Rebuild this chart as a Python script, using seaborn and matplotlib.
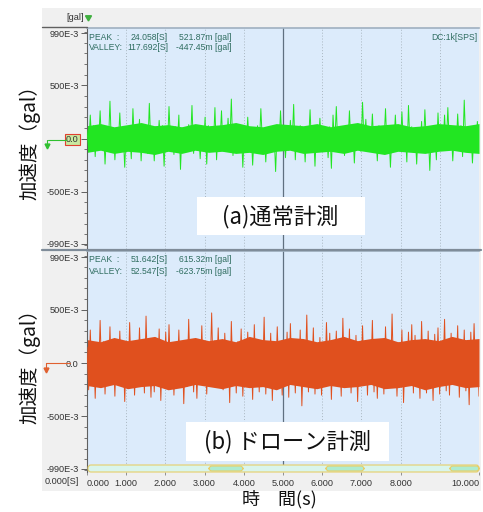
import numpy as np
import pandas as pd
import matplotlib
matplotlib.use("Agg")
import matplotlib.pyplot as plt
import seaborn as sns
from matplotlib.patches import Rectangle, FancyBboxPatch
from matplotlib.lines import Line2D
from matplotlib.ticker import MultipleLocator

# ---------------- data ----------------
normal_acc = [
    0.08,-0.10,0.22,-0.07,0.12,-0.17,0.09,-0.06,0.26,-0.10,0.11,-0.24,0.07,-0.09,0.35,-0.13,0.10,-0.20,0.06,-0.08,
    0.24,-0.09,0.07,-0.27,0.10,-0.11,0.08,-0.19,0.28,-0.07,0.12,-0.08,0.18,-0.21,0.10,-0.09,0.07,-0.14,0.33,-0.10,
    0.09,-0.21,0.11,-0.06,0.17,-0.08,0.12,-0.26,0.08,-0.10,0.30,-0.07,0.09,-0.15,0.11,-0.08,0.22,-0.29,0.10,-0.07,
    0.06,-0.11,0.13,-0.09,0.31,-0.14,0.08,-0.11,0.10,-0.19,0.07,-0.09,0.20,-0.24,0.12,-0.08,0.09,-0.10,0.29,-0.20,
    0.11,-0.07,0.26,-0.12,0.08,-0.10,0.19,-0.09,0.37,-0.16,0.07,-0.11,0.10,-0.06,0.12,-0.27,0.08,-0.09,0.20,-0.10,
    0.10,-0.25,0.07,-0.08,0.12,-0.10,0.28,-0.06,0.09,-0.22,0.10,-0.07,0.11,-0.09,0.08,-0.31,0.12,-0.10,0.26,-0.08,
    0.07,-0.18,0.09,-0.11,0.17,-0.08,0.32,-0.20,0.10,-0.07,0.12,-0.09,0.08,-0.22,0.10,-0.06,0.27,-0.11,0.09,-0.26,
    0.12,-0.08,0.19,-0.10,0.07,-0.12,0.09,-0.18,0.11,-0.28,0.22,-0.08,0.30,-0.11,0.07,-0.09,0.10,-0.16,0.08,-0.10,
    0.26,-0.09,0.11,-0.23,0.08,-0.10,0.07,-0.12,0.34,-0.08,0.18,-0.11,0.09,-0.07,0.23,-0.10,0.08,-0.21,0.12,-0.09,
    0.10,-0.07,0.28,-0.12,0.09,-0.27,0.08,-0.10,0.22,-0.09,0.07,-0.11,0.25,-0.08,0.10,-0.22,0.31,-0.09,0.11,-0.07,
    0.08,-0.24,0.10,-0.09,0.16,-0.12,0.27,-0.07,0.09,-0.30,0.11,-0.08,0.10,-0.20,0.24,-0.09,0.07,-0.11,0.22,-0.10,
    0.29,-0.09,0.10,-0.21,0.08,-0.11,0.23,-0.07,0.12,-0.17,0.36,-0.08,0.09,-0.10,0.11,-0.23,0.07,-0.12,0.16,-0.09,
]
drone_acc = [
    0.15,-0.25,0.31,-0.14,0.19,-0.33,0.16,-0.18,0.40,-0.13,0.20,-0.29,0.15,-0.17,0.34,-0.20,0.14,-0.31,0.18,-0.16,
    0.30,-0.15,0.17,-0.36,0.14,-0.19,0.38,-0.16,0.20,-0.30,0.13,-0.18,0.33,-0.15,0.19,-0.28,0.44,-0.14,0.16,-0.32,
    0.18,-0.27,0.15,-0.17,0.32,-0.35,0.14,-0.19,0.29,-0.16,0.36,-0.14,0.18,-0.30,0.15,-0.13,0.31,-0.17,0.20,-0.38,
    0.16,-0.22,0.41,-0.15,0.19,-0.27,0.14,-0.33,0.18,-0.16,0.35,-0.20,0.15,-0.29,0.17,-0.14,0.47,-0.18,0.21,-0.15,
    0.33,-0.17,0.14,-0.25,0.28,-0.15,0.19,-0.37,0.39,-0.16,0.15,-0.28,0.20,-0.14,0.32,-0.31,0.16,-0.18,0.29,-0.14,
    0.17,-0.34,0.36,-0.15,0.20,-0.27,0.14,-0.18,0.43,-0.29,0.16,-0.14,0.28,-0.35,0.18,-0.16,0.34,-0.15,0.19,-0.30,
    0.15,-0.18,0.29,-0.32,0.37,-0.14,0.17,-0.28,0.16,-0.19,0.31,-0.40,0.14,-0.16,0.45,-0.27,0.18,-0.15,0.33,-0.29,
    0.16,-0.15,0.24,-0.30,0.14,-0.17,0.38,-0.16,0.28,-0.34,0.18,-0.14,0.30,-0.19,0.15,-0.31,0.42,-0.17,0.20,-0.16,
    0.32,-0.28,0.14,-0.18,0.26,-0.36,0.16,-0.15,0.35,-0.19,0.17,-0.30,0.15,-0.16,0.40,-0.27,0.19,-0.33,0.14,-0.17,
    0.18,-0.29,0.34,-0.15,0.16,-0.21,0.46,-0.17,0.14,-0.31,0.19,-0.16,0.31,-0.37,0.15,-0.18,0.29,-0.14,0.36,-0.28,
    0.26,-0.16,0.15,-0.33,0.39,-0.17,0.19,-0.28,0.30,-0.15,0.14,-0.35,0.27,-0.18,0.33,-0.29,0.16,-0.14,0.41,-0.26,
    0.15,-0.30,0.28,-0.17,0.19,-0.14,0.35,-0.32,0.16,-0.19,0.31,-0.26,0.15,-0.39,0.29,-0.17,0.37,-0.15,0.20,-0.31,
]
# dense core band of each record (upper / lower edges)
normal_core_hi = [0.12,0.14,0.11,0.13,0.15,0.12,0.13,0.11,0.14,0.12,0.13,0.15,0.12,0.11,0.14,
                  0.13,0.12,0.14,0.11,0.13,0.15,0.12,0.13,0.14,0.11,0.12,0.14,0.13,0.12,0.14]
normal_core_lo = [-0.13,-0.11,-0.14,-0.12,-0.13,-0.15,-0.12,-0.14,-0.11,-0.13,-0.12,-0.14,-0.13,-0.15,-0.12,
                  -0.11,-0.14,-0.13,-0.12,-0.14,-0.11,-0.13,-0.15,-0.12,-0.13,-0.14,-0.12,-0.11,-0.13,-0.14]
drone_core_hi = [0.22,0.20,0.24,0.21,0.23,0.25,0.20,0.22,0.24,0.21,0.23,0.20,0.25,0.22,0.21,
                 0.24,0.23,0.20,0.22,0.25,0.21,0.23,0.24,0.20,0.22,0.23,0.21,0.25,0.22,0.23]
drone_core_lo = [-0.21,-0.23,-0.20,-0.24,-0.22,-0.21,-0.25,-0.23,-0.20,-0.22,-0.24,-0.21,-0.23,-0.22,-0.25,
                 -0.20,-0.22,-0.24,-0.21,-0.23,-0.22,-0.20,-0.24,-0.23,-0.21,-0.25,-0.22,-0.20,-0.23,-0.22]
duration_s = 10.0
xtick_values = [0, 1, 2, 3, 4, 5, 6, 7, 8, 10]
xtick_labels = ["0.000", "1.000", "2.000", "3.000", "4.000", "5.000",
                "6.000", "7.000", "8.000", "10.000"]
ytick_values = [-0.99, -0.5, 0.0, 0.5, 0.99]
ytick_labels = ["-990E-3", "-500E-3", "0.0", "500E-3", "990E-3"]
panel_titles = ["(a)通常計測", "(b) ドローン計測"]
peak_info = [("24.058[S]", "521.87m [gal]"), ("51.642[S]", "615.32m [gal]")]
valley_info = [("117.692[S]", "-447.45m [gal]"), ("52.547[S]", "-623.75m [gal]")]
ylabel_text = "加速度（gal）"
xlabel_text = "時　間(s)"

# ---------------- style ----------------
sns.set_style("white")
plt.rcParams['font.family'] = ['Liberation Sans', 'DejaVu Sans', 'Noto Sans CJK JP']
JP = ['Noto Sans CJK JP', 'DejaVu Sans']
FS = 6.6
FSA = 6.2

W, H = 483, 512
def fx(x): return x / W
def fy(y): return 1 - y / H

fig = plt.figure(figsize=(W / 100, H / 100), dpi=100)
fig.patch.set_facecolor('white')
fig.patches.append(Rectangle((fx(42), fy(491)), (481 - 42) / W, (491 - 8) / H,
                             transform=fig.transFigure, facecolor='#f0f0f0',
                             edgecolor='none', zorder=-5))

GRID = '#a9b6c0'
TXT = '#2f6d60'
colors = ['#22e622', '#e0501e']
panels = [(28, 249), (251, 472)]
ylims = [(-1.037, 1.037), (-1.02, 1.05)]
series = [normal_acc, drone_acc]
cores = [(normal_core_hi, normal_core_lo), (drone_core_hi, drone_core_lo)]

axes = []
for i in range(2):
    top, bot = panels[i]
    ax = fig.add_axes([fx(87), fy(bot), (479 - 87) / W, (bot - top) / H])
    ax.set_zorder(1)
    ax.set_facecolor('#dcebfb')
    vals = series[i]
    df = pd.DataFrame({"t": np.linspace(0, duration_s, len(vals)), "acc": vals})
    hi, lo = cores[i]
    tc = np.linspace(0, duration_s, len(hi))
    ax.fill_between(tc, lo, hi, color=colors[i], lw=0, zorder=2.5)
    sns.lineplot(data=df, x="t", y="acc", ax=ax, color=colors[i],
                 linewidth=0.7, estimator=None, zorder=3)
    ax.set_xlim(0, 10)
    ax.set_ylim(*ylims[i])
    for xv in range(1, 10):
        if xv == 5:
            ax.axvline(xv, color='#607080', lw=0.9, zorder=1)
        else:
            ax.axvline(xv, color=GRID, lw=0.7, ls=(0, (1, 2)), zorder=1)
    for s in ['right', 'bottom']:
        ax.spines[s].set_visible(False)
    ax.spines['top'].set_color('#9fb0c0')
    ax.spines['top'].set_linewidth(1.2)
    ax.spines['left'].set_color('#606060')
    ax.spines['left'].set_linewidth(0.8)
    ax.set_yticks(ytick_values)
    ax.set_yticklabels(ytick_labels, fontsize=FS, color='#333333')
    ax.yaxis.set_minor_locator(MultipleLocator(0.1))
    ax.tick_params(axis='y', which='major', length=4, width=0.7, color='#606060', pad=2, left=True)
    ax.tick_params(axis='y', which='minor', length=2, width=0.6, color='#606060', left=True)
    ax.set_xlabel("")
    ax.set_ylabel("")
    if i == 0:
        ax.set_xticks([])
    else:
        ax.set_xticks(xtick_values)
        ax.set_xticklabels(xtick_labels, fontsize=FS, color='#333333')
        ax.tick_params(axis='x', length=2, width=0.6, color='#808080', pad=3, bottom=True)
        lbls = ax.get_xticklabels()
        lbls[0].set_ha('left')
        lbls[-1].set_ha('right')
    axes.append(ax)

    # PEAK / VALLEY text
    ty = top + 9
    fig.text(fx(89), fy(ty), "PEAK  :", fontsize=FSA, color=TXT, va='center', zorder=8)
    fig.text(fx(89), fy(ty + 11), "VALLEY:", fontsize=FSA, color=TXT, va='center', zorder=8)
    fig.text(fx(168), fy(ty), peak_info[i][0], fontsize=FSA, color=TXT, va='center', ha='right', zorder=8)
    fig.text(fx(168), fy(ty + 11), valley_info[i][0], fontsize=FSA, color=TXT, va='center', ha='right', zorder=8)
    fig.text(fx(231), fy(ty), peak_info[i][1], fontsize=FSA, color=TXT, va='center', ha='right', zorder=8)
    fig.text(fx(231), fy(ty + 11), valley_info[i][1], fontsize=FSA, color=TXT, va='center', ha='right', zorder=8)

fig.text(fx(477), fy(37), "DC:1k[SPS]", fontsize=FSA, color=TXT, va='center', ha='right', zorder=8)

# top strip
fig.text(fx(84), fy(18), "[gal]", fontsize=FS, color='#333333', va='center', ha='right')
fig.add_artist(Line2D([fx(42), fx(87)], [fy(27), fy(27)], color='#606060', lw=1.0, zorder=8))
fig.add_artist(Line2D([fx(42), fx(481)], [fy(250), fy(250)], color='#7f8c99', lw=1.6, zorder=8))
fig.add_artist(Line2D([fx(88)], [fy(17)], marker=(3, 0, 180), color='#40b040', ms=5, lw=0, zorder=8))

# zero markers
zt = axes[0].get_yticklabels()[2]
zt.set_bbox(dict(boxstyle='square,pad=0.15', fc='#c8e8a0', ec='#e04030', lw=0.8))
fig.add_artist(Line2D([fx(48), fx(66)], [fy(140), fy(140)], color='#30c030', lw=0.8))
fig.add_artist(Line2D([fx(47), fx(47)], [fy(140), fy(146)], color='#30c030', lw=0.8))
fig.add_artist(Line2D([fx(47)], [fy(146)], marker='v', color='#30c030', ms=3.5, lw=0))
fig.add_artist(Line2D([fx(46), fx(70)], [fy(363), fy(363)], color='#e06030', lw=0.8))
fig.add_artist(Line2D([fx(46), fx(46)], [fy(363), fy(370)], color='#e06030', lw=0.8))
fig.add_artist(Line2D([fx(46)], [fy(370)], marker='v', color='#e06030', ms=3.5, lw=0))

# scroll bar
def bar(x0, x1, y0, y1, fc, ec):
    fig.patches.append(FancyBboxPatch((fx(x0), fy(y1)), (x1 - x0) / W, (y1 - y0) / H,
                                      boxstyle='round,pad=0,rounding_size=0.006',
                                      transform=fig.transFigure, fc=fc, ec=ec, lw=0.8, zorder=5))
bar(88, 479, 465, 472, '#d9f5ec', '#e6cf6a')
for a, b in [(209, 243), (326, 364), (450, 479)]:
    bar(a, b, 466, 471, '#aeecd0', '#e6cf6a')

# panel titles in white boxes
fig.patches.append(Rectangle((fx(197), fy(235)), (365 - 197) / W, (235 - 197) / H,
                             transform=fig.transFigure, fc='white', ec='none', zorder=6))
fig.text(fx(280), fy(217), panel_titles[0], fontsize=16, family=JP, ha='center', va='center',
         color='#111111', zorder=7)
fig.patches.append(Rectangle((fx(186), fy(461)), (389 - 186) / W, (461 - 422) / H,
                             transform=fig.transFigure, fc='white', ec='none', zorder=6))
fig.text(fx(288), fy(442), panel_titles[1], fontsize=16, family=JP, ha='center', va='center',
         color='#111111', zorder=7)

# axis labels
fig.text(fx(62), fy(482), "0.000[S]", fontsize=FS, color='#333333', ha='center', va='center')
for yc in (138, 362):
    fig.text(fx(30), fy(yc), ylabel_text, fontsize=14, family=JP, rotation=90,
             ha='center', va='center', color='#111111')
fig.text(fx(279), fy(499), xlabel_text, fontsize=13, family=JP, ha='center', va='center',
         color='#111111')

fig.savefig("out.png", dpi=100)
